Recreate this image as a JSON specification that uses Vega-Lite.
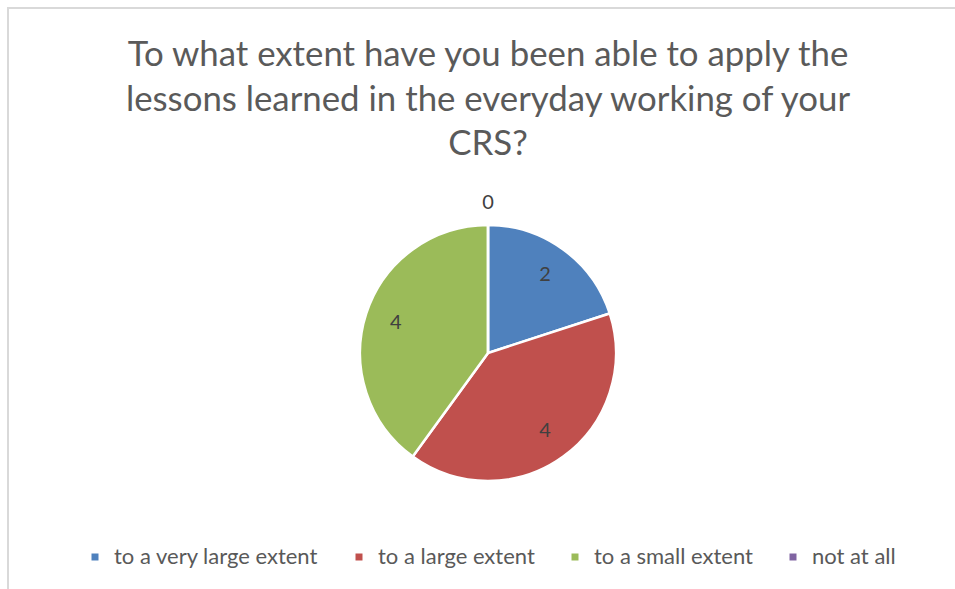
{
  "$schema": "https://vega.github.io/schema/vega-lite/v6.json",
  "autosize": "none",
  "width": 960,
  "height": 690,
  "padding": {"left": 8, "top": 8, "right": 0, "bottom": 0},
  "background": "white",
  "config": {
    "view": {"stroke": null},
    "font": "Lato"
  },
  "title": {
    "text": ["To what extent have you been able to apply the", "lessons learned in the everyday working of your", "CRS?"],
    "orient": "top",
    "anchor": "middle",
    "frame": "group",
    "offset": -156,
    "font": "Lato",
    "fontSize": 34.8,
    "fontWeight": "normal",
    "color": "#5A5A5A",
    "lineHeight": 44.5
  },
  "data": {
    "values": [
      {"category": "to a very large extent", "count": 2, "idx": 1},
      {"category": "to a large extent", "count": 4, "idx": 2},
      {"category": "to a small extent", "count": 4, "idx": 3},
      {"category": "not at all", "count": 0, "idx": 4}
    ]
  },
  "layer": [
    {
      "data": {"values": [{}]},
      "mark": {"type": "rect", "fill": null, "stroke": "#D9D9D9", "strokeWidth": 2},
      "encoding": {}
    },
    {
      "mark": {"type": "arc", "outerRadius": 128, "stroke": "white", "strokeWidth": 2.5},
      "encoding": {
        "theta": {"field": "count", "type": "quantitative", "stack": true},
        "order": {"field": "idx", "type": "quantitative"},
        "color": {
          "field": "category",
          "type": "nominal",
          "scale": {
            "domain": ["to a very large extent", "to a large extent", "to a small extent", "not at all"],
            "range": ["#4F81BD", "#C0504D", "#9BBB59", "#8064A2"]
          },
          "legend": {
            "title": null,
            "orient": "none",
            "direction": "horizontal",
            "legendX": 76,
            "legendY": 538,
            "symbolType": "square",
            "symbolSize": 49,
            "symbolStrokeWidth": 0,
            "labelFont": "Lato",
            "labelFontSize": 22,
            "labelColor": "#595959",
            "labelOffset": 8,
            "columnPadding": 29,
            "labelLimit": 400
          }
        }
      }
    },
    {
      "transform": [{"filter": "datum.count > 0"}],
      "mark": {"type": "text", "radius": 97, "font": "Lato", "fontSize": 20, "color": "#404040"},
      "encoding": {
        "theta": {"field": "count", "type": "quantitative", "stack": true},
        "order": {"field": "idx", "type": "quantitative"},
        "text": {"field": "count", "type": "quantitative"}
      }
    },
    {
      "transform": [{"filter": "datum.count == 0"}],
      "mark": {"type": "text", "radius": 150, "font": "Lato", "fontSize": 20, "color": "#404040"},
      "encoding": {
        "theta": {"field": "count", "type": "quantitative", "stack": true},
        "order": {"field": "idx", "type": "quantitative"},
        "text": {"field": "count", "type": "quantitative"}
      }
    }
  ]
}
